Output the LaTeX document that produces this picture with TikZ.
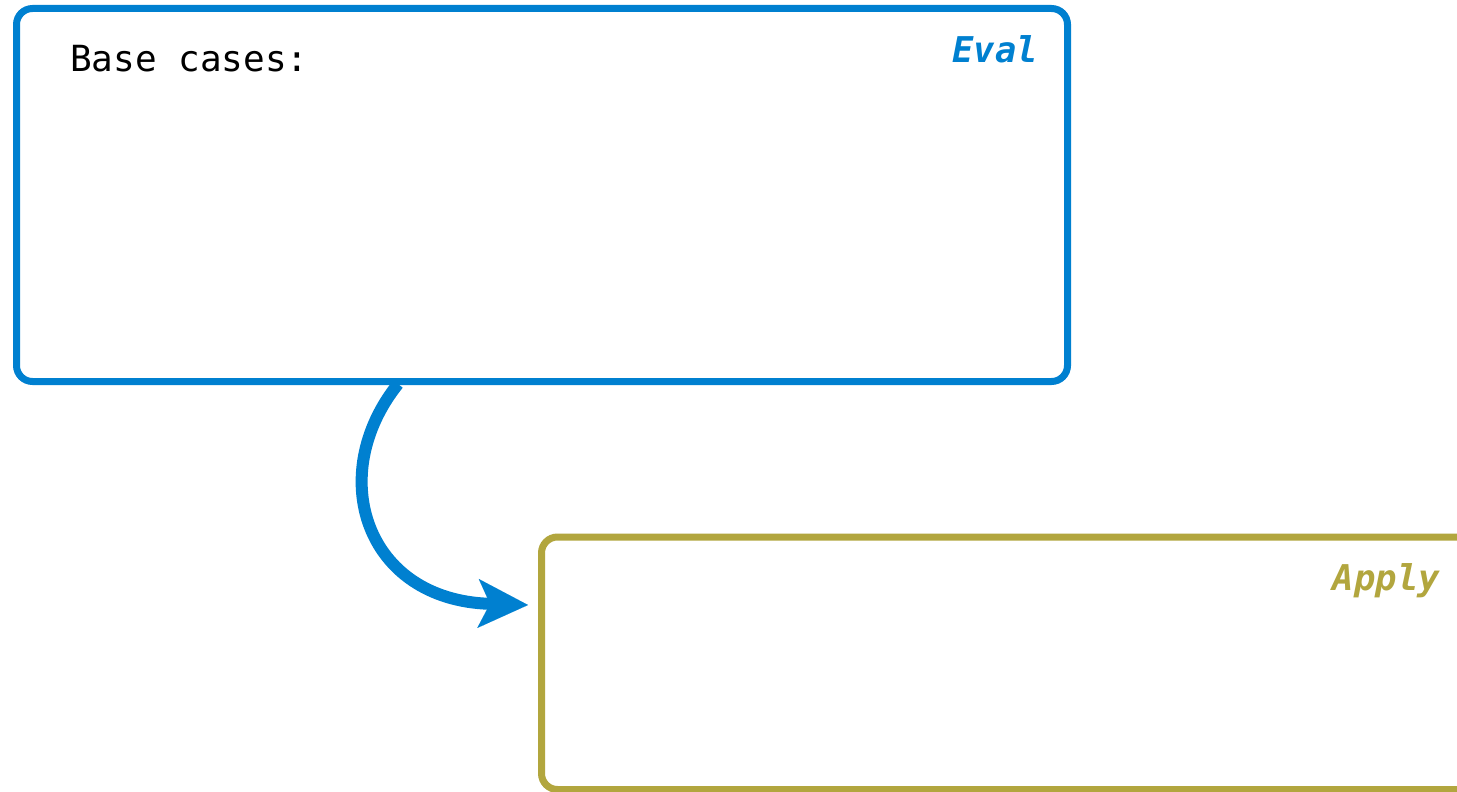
\documentclass[tikz,border=0pt]{standalone}
\usepackage{fontspec}
\setmonofont{DejaVu Sans Mono}
\usetikzlibrary{arrows.meta}
\definecolor{evalblue}{HTML}{0080D0}
\definecolor{applyolive}{HTML}{B2A63E}
\tikzset{
  panel/.style={draw, rectangle, rounded corners=16pt, line width=7pt, inner sep=0pt, outer sep=0pt, fill=white},
  codetext/.style={font=\ttfamily\fontsize{36}{42}\selectfont, inner sep=0pt},
  tagtext/.style={font=\ttfamily\bfseries\itshape\fontsize{35.5}{42}\selectfont, inner sep=0pt},
  flow/.style={draw=evalblue, line width=12pt, -{Stealth[length=50pt,width=49pt,inset=12pt,line width=0.01pt]}}
}
\begin{document}
\begin{tikzpicture}[x=1pt,y=-1pt]
\useasboundingbox (0,0) rectangle (1457,792);
\clip (0,0) rectangle (1457,792);
\fill[white] (0,0) rectangle (1457,792);
\node[panel, draw=evalblue, minimum width=1051pt, minimum height=373pt] (eval) at (542,195) {};
\node[panel, draw=applyolive, minimum width=938.5pt, minimum height=252.5pt] (apply) at (1010.75,663.25) {};
\node[codetext, anchor=base west] (base) at (70,72) {Base cases:};
\node[tagtext, text=evalblue, anchor=base east] (evaltag) at (1038,63) {Eval};
\node[tagtext, text=applyolive, anchor=base east] (applytag) at (1440,590) {Apply};
\coordinate (from) at (398,384);
\coordinate (to) at (528,605);
\draw[flow] (from) .. controls (325,475) and (365,600) .. (to);
\end{tikzpicture}
\end{document}
